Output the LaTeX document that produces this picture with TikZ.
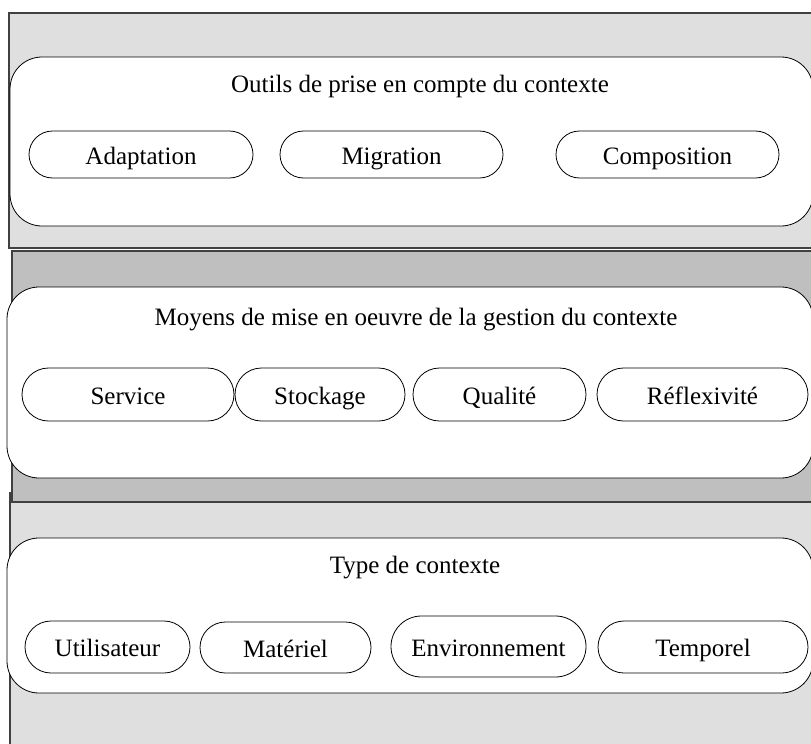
\documentclass[tikz,border=0pt]{standalone}
\usepackage{fontspec}
\setmainfont{Liberation Serif}
\usetikzlibrary{shapes.misc}
\begin{document}
\begin{tikzpicture}[
        x=1pt, y=-1pt,
        band/.style={draw=black!75, line width=1.2pt},
        layer/.style={draw, fill=white, rounded corners=32pt, line width=0.8pt},
        pill/.style={draw, fill=white, rounded rectangle, line width=0.8pt, inner sep=0pt,
            text height=19pt, text depth=0pt, font=\fontsize{25}{29}\selectfont},
        heading/.style={anchor=base, font=\fontsize{25}{29}\selectfont}
    ]
    \path[use as bounding box, clip] (0,0) rectangle (811,744);
    \fill[white] (0,0) rectangle (811,744);
    % Gray bands, cut by the right edge
    \draw[band, fill=gray!25] (9,13) rectangle (830,248);
    \draw[band, fill=gray!25] (10,493) rectangle (830,760);
    \draw[band, fill=gray!50] (12,251) rectangle (830,502);
    % White layers
    \draw[layer] (10,57) rectangle (813,226);
    \draw[layer] (7,287) rectangle (813,478);
    \draw[layer] (7,538) rectangle (813,693);
    % Layer titles
    \node[heading] (outils) at (420,92) {Outils de prise en compte du contexte};
    \node[heading] (moyens) at (416,325) {Moyens de mise en oeuvre de la gestion du contexte};
    \node[heading] (type) at (415,573) {Type de contexte};
    % Tools
    \foreach \x/\w/\label [count=\i] in {
        141/224/Adaptation,
        391.5/223/Migration,
        667.5/223/Composition
    } {
        \node[pill, minimum width=\w pt, minimum height=47pt] (outil\i) at (\x,154.5) {\label};
    }
    % Means
    \foreach \x/\w/\label [count=\i] in {
        128/212/Service,
        320/170/Stockage,
        499.5/173/Qualité,
        702.5/211/Réflexivité
    } {
        \node[pill, minimum width=\w pt, minimum height=53pt] (moyen\i) at (\x,394.5) {\label};
    }
    % Context types
    \foreach \x/\y/\w/\h/\label [count=\i] in {
        107.5/647/165/52/Utilisateur,
        285.5/647.5/171/51/Matériel,
        488.5/646.5/195/61/Environnement,
        703/647/210/52/Temporel
    } {
        \node[pill, minimum width=\w pt, minimum height=\h pt] (type\i) at (\x,\y) {\label};
    }
\end{tikzpicture}
\end{document}
